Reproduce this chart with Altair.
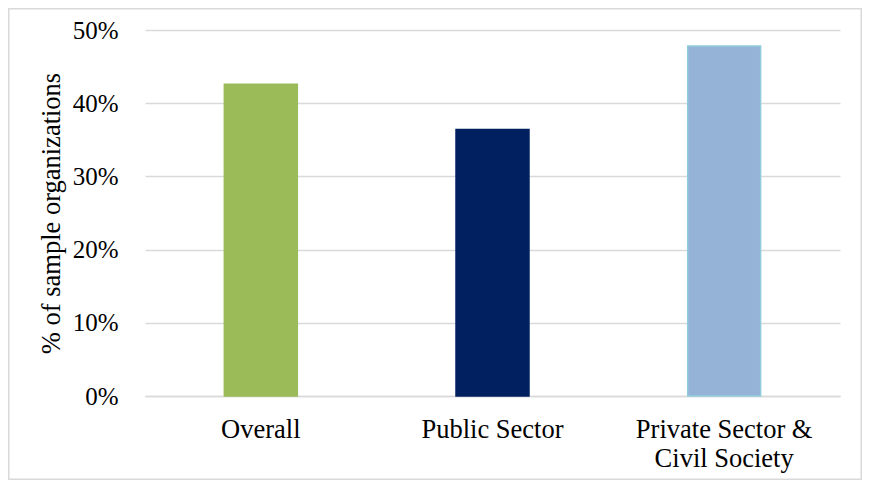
import altair as alt
import pandas as pd

categories = ["Overall", "Public Sector", "Private Sector & Civil Society"]
values = [0.426, 0.364, 0.478]
fill_colors = ["#9BBB59", "#002060", "#95B3D7"]
stroke_colors = ["#9BBB59", "#002060", "#92CDDC"]
y_ticks = [0, 0.1, 0.2, 0.3, 0.4, 0.5]

df = pd.DataFrame({"category": categories, "value": values})

FONT = "Liberation Serif"
W, H = 695, 366

bars = alt.Chart(df).mark_bar(strokeWidth=1.5).encode(
    x=alt.X(
        "category:N",
        sort=None,
        title=None,
        scale=alt.Scale(paddingInner=0.685, paddingOuter=0.3425),
        axis=alt.Axis(
            labelAngle=0,
            labelFont=FONT,
            labelFontSize=26.5,
            labelColor="#000000",
            labelPadding=20,
            labelLineHeight=29,
            labelExpr="datum.value == 'Private Sector & Civil Society' ? ['Private Sector &', 'Civil Society'] : datum.value",
            ticks=False,
            domainColor="#D9D9D9",
            domainWidth=1.5,
            grid=False,
        ),
    ),
    y=alt.Y(
        "value:Q",
        title="% of sample organizations",
        scale=alt.Scale(domain=[0, 0.5]),
        axis=alt.Axis(
            values=y_ticks,
            format=".0%",
            labelFont=FONT,
            labelFontSize=25,
            labelColor="#000000",
            labelPadding=27,
            ticks=False,
            domain=False,
            grid=True,
            gridColor="#D9D9D9",
            gridWidth=1.5,
            titleFont=FONT,
            titleFontSize=26.5,
            titleFontWeight="normal",
            titleColor="#000000",
            titleX=-94,
            titleY=H / 2,
            titleAngle=-90,
            titleAlign="center",
            titleBaseline="middle",
        ),
    ),
    color=alt.Color("category:N", sort=None, scale=alt.Scale(domain=categories, range=fill_colors), legend=None),
    stroke=alt.Stroke("category:N", sort=None, scale=alt.Scale(domain=categories, range=stroke_colors), legend=None),
)

frame = alt.Chart(pd.DataFrame({"a": [0]})).mark_rect(
    fill=None, stroke="#D9D9D9", strokeWidth=1.5
).encode(
    x=alt.value(-136.25),
    x2=alt.value(W + 21.25),
    y=alt.value(-21.25),
    y2=alt.value(H + 83.25),
)

chart = alt.layer(frame, bars).properties(
    width=W,
    height=H,
    autosize=alt.AutoSizeParams(type="none"),
    padding={"left": 137, "top": 22, "right": 22, "bottom": 84},
).configure_view(stroke=None)

chart.save("out.html", embed_options={"renderer": "svg", "actions": False})
